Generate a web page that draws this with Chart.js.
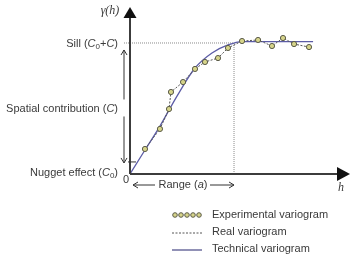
<!DOCTYPE html>
<html>
<head>
    <title>Variogram</title>
    <script src="https://cdn.jsdelivr.net/npm/chart.js"></script>
    <style>
        body { margin: 0; background: #fff; }
    </style>
</head>
<body>
    <canvas id="myChart" width="355" height="255"></canvas>

    <script>
        // experimental variogram points (h, gamma)
        const expH = [1.44, 2.88, 3.75, 3.94, 5.10, 6.25, 7.21, 8.46, 9.42, 10.77, 12.31, 13.65, 14.71, 15.77, 17.21];
        const expGamma = [1.91, 3.44, 4.96, 6.26, 7.02, 8.02, 8.55, 8.85, 9.62, 10.15, 10.23, 9.77, 10.38, 9.92, 9.69];

        // technical (fitted) variogram
        const techH = [0, 1.44, 2.88, 4.52, 6.25, 7.88, 9.42, 10.77, 13.46, 17.6];
        const techGamma = [0, 1.83, 3.66, 5.95, 8.09, 9.24, 9.85, 10.11, 10.11, 10.11];

        const sill = 10;
        const nugget = 0.92;
        const range = 10;
        const hMax = 21.15;
        const gammaMax = 12.9;

        const legendLabels = ['Experimental variogram', 'Real variogram', 'Technical variogram'];

        const FONT = '"Liberation Sans", Arial, sans-serif';
        const TXT = '#3a3a3a';

        function drawRich(ctx, parts, x, y, align) {
            // parts: [text, 'n' | 'i' | 's']
            const fonts = { n: '11px ' + FONT, i: 'italic 11px ' + FONT, s: '8px ' + FONT };
            let total = 0;
            parts.forEach(p => { ctx.font = fonts[p[1]]; total += ctx.measureText(p[0]).width; });
            let cx = align === 'right' ? x - total : (align === 'center' ? x - total / 2 : x);
            ctx.textBaseline = 'middle';
            ctx.textAlign = 'left';
            parts.forEach(p => {
                ctx.font = fonts[p[1]];
                ctx.fillText(p[0], cx, p[1] === 's' ? y + 3 : y);
                cx += ctx.measureText(p[0]).width;
            });
        }

        function arrowHead(ctx, tipX, tipY, dir, len, half) {
            ctx.beginPath();
            if (dir === 'up') {
                ctx.moveTo(tipX, tipY); ctx.lineTo(tipX - half, tipY + len); ctx.lineTo(tipX + half, tipY + len);
            } else if (dir === 'right') {
                ctx.moveTo(tipX, tipY); ctx.lineTo(tipX - len, tipY - half); ctx.lineTo(tipX - len, tipY + half);
            }
            ctx.closePath();
            ctx.fill();
        }

        function openArrow(ctx, tipX, tipY, dir) {
            ctx.beginPath();
            if (dir === 'up') { ctx.moveTo(tipX - 3, tipY + 5); ctx.lineTo(tipX, tipY); ctx.lineTo(tipX + 3, tipY + 5); }
            if (dir === 'down') { ctx.moveTo(tipX - 3, tipY - 5); ctx.lineTo(tipX, tipY); ctx.lineTo(tipX + 3, tipY - 5); }
            if (dir === 'left') { ctx.moveTo(tipX + 5, tipY - 3); ctx.lineTo(tipX, tipY); ctx.lineTo(tipX + 5, tipY + 3); }
            if (dir === 'right') { ctx.moveTo(tipX - 5, tipY - 3); ctx.lineTo(tipX, tipY); ctx.lineTo(tipX - 5, tipY + 3); }
            ctx.stroke();
        }

        const guides = {
            id: 'guides',
            beforeDatasetsDraw(chart) {
                const ctx = chart.ctx;
                const x = chart.scales.x, y = chart.scales.y;
                const ys = y.getPixelForValue(sill);
                const xr = x.getPixelForValue(range);
                ctx.save();
                ctx.strokeStyle = '#8a8a8a';
                ctx.lineWidth = 1;
                ctx.setLineDash([1, 1]);
                ctx.beginPath();
                ctx.moveTo(x.left - 6, ys); ctx.lineTo(xr, ys);
                ctx.moveTo(xr, ys); ctx.lineTo(xr, y.bottom);
                ctx.stroke();
                ctx.restore();
            },
            afterDraw(chart) {
                const ctx = chart.ctx;
                const x = chart.scales.x, y = chart.scales.y;
                const x0 = x.getPixelForValue(0), y0 = y.getPixelForValue(0);
                const ys = y.getPixelForValue(sill);
                const yn = y.getPixelForValue(nugget);
                const xr = x.getPixelForValue(range);
                ctx.save();
                // axes
                ctx.strokeStyle = '#3c3c3c';
                ctx.fillStyle = '#111';
                ctx.lineWidth = 2;
                ctx.beginPath();
                ctx.moveTo(x0, y0); ctx.lineTo(x0, y.top + 10);
                ctx.moveTo(x0, y0); ctx.lineTo(x.right - 10, y0);
                ctx.stroke();
                arrowHead(ctx, x0, y.top + 2, 'up', 11, 6.5);
                arrowHead(ctx, x.right, y0, 'right', 13, 7);

                // nugget tick
                ctx.lineWidth = 1;
                ctx.strokeStyle = '#333';
                ctx.beginPath();
                ctx.moveTo(x0 - 2, yn); ctx.lineTo(x0 + 6, yn);
                ctx.stroke();

                // spatial contribution arrows
                const ax = x0 - 6;
                const ym = (ys + yn) / 2 + 7;
                ctx.beginPath();
                ctx.moveTo(ax, ys + 7); ctx.lineTo(ax, ym - 10);
                ctx.moveTo(ax, ym + 7); ctx.lineTo(ax, yn + 1);
                ctx.stroke();
                openArrow(ctx, ax, ys + 7, 'up');
                openArrow(ctx, ax, yn + 1, 'down');

                // range arrows
                const yr = y0 + 11;
                const xc = (x0 + xr) / 2 + 1;
                ctx.beginPath();
                ctx.moveTo(x0 + 3, yr); ctx.lineTo(xc - 28, yr);
                ctx.moveTo(xc + 27, yr); ctx.lineTo(xr, yr);
                ctx.stroke();
                openArrow(ctx, x0 + 3, yr, 'left');
                openArrow(ctx, xr, yr, 'right');

                // texts
                ctx.fillStyle = TXT;
                drawRich(ctx, [['Range (', 'n'], ['a', 'i'], [')', 'n']], xc, yr, 'center');
                drawRich(ctx, [['Sill (', 'n'], ['C', 'i'], ['0', 's'], ['+', 'n'], ['C', 'i'], [')', 'n']], x0 - 12, ys + 1, 'right');
                drawRich(ctx, [['Spatial contribution (', 'n'], ['C', 'i'], [')', 'n']], x0 - 12, ym - 1, 'right');
                drawRich(ctx, [['Nugget effect (', 'n'], ['C', 'i'], ['0', 's'], [')', 'n']], x0 - 12, y0 - 1, 'right');
                drawRich(ctx, [['0', 'n']], x0 - 4, y0 + 6, 'center');
                ctx.font = 'italic 12px "Liberation Serif", serif';
                ctx.textAlign = 'center';
                ctx.fillText('h', x.right - 9, y0 + 14);
                ctx.fillText('\u03b3(h)', x0 - 20, y.top + 6);

                // legend
                const lx = 172, lw = 30, tx = 212;
                const rows = [215, 232, 249];
                ctx.fillStyle = TXT;
                legendLabels.forEach((t, i) => drawRich(ctx, [[t, 'n']], tx, rows[i], 'left'));
                ctx.fillStyle = '#d6d48a';
                ctx.strokeStyle = '#5a5a48';
                for (let k = 0; k < 5; k++) {
                    ctx.beginPath();
                    ctx.arc(lx + 3 + k * 6, rows[0], 2.3, 0, Math.PI * 2);
                    ctx.fill(); ctx.stroke();
                }
                ctx.strokeStyle = '#555';
                ctx.setLineDash([2, 1.5]);
                ctx.beginPath(); ctx.moveTo(lx, rows[1] + 1); ctx.lineTo(lx + lw, rows[1] + 1); ctx.stroke();
                ctx.setLineDash([]);
                ctx.strokeStyle = '#55558f';
                ctx.lineWidth = 1.3;
                ctx.beginPath(); ctx.moveTo(lx, rows[2] + 1); ctx.lineTo(lx + lw, rows[2] + 1); ctx.stroke();
                ctx.restore();
            }
        };

        const ctx = document.getElementById('myChart').getContext('2d');
        const chart = new Chart(ctx, {
            type: 'scatter',
            data: {
                datasets: [
                    {
                        label: legendLabels[2],
                        data: techH.map((h, i) => ({ x: h, y: techGamma[i] })),
                        showLine: true,
                        borderColor: '#5c5ca6',
                        borderWidth: 1.3,
                        pointRadius: 0,
                        cubicInterpolationMode: 'monotone',
                        order: 3
                    },
                    {
                        label: legendLabels[1],
                        data: expH.map((h, i) => ({ x: h, y: expGamma[i] })),
                        showLine: true,
                        borderColor: '#555',
                        borderWidth: 1,
                        borderDash: [2, 1.5],
                        pointRadius: 0,
                        order: 2
                    },
                    {
                        label: legendLabels[0],
                        data: expH.map((h, i) => ({ x: h, y: expGamma[i] })),
                        showLine: false,
                        pointRadius: 2.6,
                        pointBackgroundColor: '#d6d48a',
                        pointBorderColor: '#5a5a48',
                        pointBorderWidth: 1,
                        order: 1
                    }
                ]
            },
            options: {
                responsive: false,
                animation: false,
                layout: { padding: { left: 130, right: 5, top: 5, bottom: 81 } },
                plugins: { legend: { display: false }, tooltip: { enabled: false } },
                scales: {
                    x: { type: 'linear', min: 0, max: hMax, display: false },
                    y: { type: 'linear', min: 0, max: gammaMax, display: false }
                }
            },
            plugins: [guides]
        });
    </script>
</body>
</html>
